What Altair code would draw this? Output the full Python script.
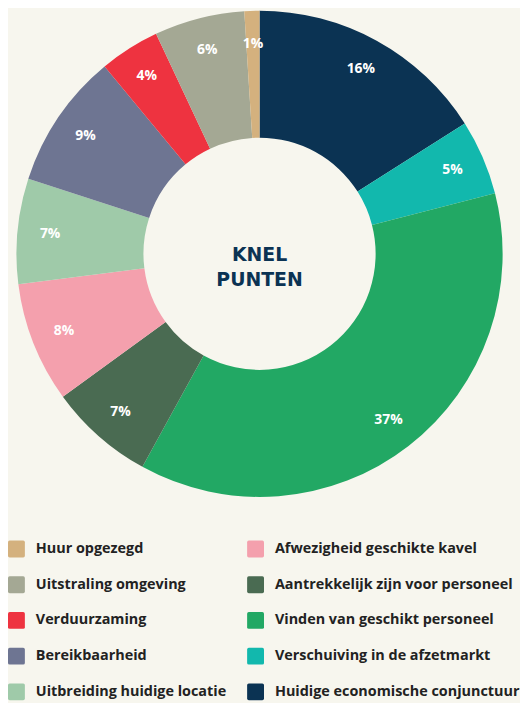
import altair as alt
import pandas as pd

# Slices, clockwise from 12 o'clock
categories = [
    "Huidige economische conjunctuur",
    "Verschuiving in de afzetmarkt",
    "Vinden van geschikt personeel",
    "Aantrekkelijk zijn voor personeel",
    "Afwezigheid geschikte kavel",
    "Uitbreiding huidige locatie",
    "Bereikbaarheid",
    "Verduurzaming",
    "Uitstraling omgeving",
    "Huur opgezegd",
]
percentages = [16, 5, 37, 7, 8, 7, 9, 4, 6, 1]
colors = [
    "#0b3353", "#12b8ad", "#22a864", "#4a6b52", "#f4a0ad",
    "#9fcaa9", "#6e7592", "#ee3340", "#a4a894", "#d4b17e",
]
# legend order (column by column)
legend_order = [
    "Huur opgezegd", "Uitstraling omgeving", "Verduurzaming",
    "Bereikbaarheid", "Uitbreiding huidige locatie",
    "Afwezigheid geschikte kavel", "Aantrekkelijk zijn voor personeel",
    "Vinden van geschikt personeel", "Verschuiving in de afzetmarkt",
    "Huidige economische conjunctuur",
]
center_title = ["KNEL", "PUNTEN"]

color_of = dict(zip(categories, colors))
df = pd.DataFrame({
    "categorie": categories,
    "pct": percentages,
    "volgorde": list(range(len(categories))),
})
df["label"] = df["pct"].astype(str) + "%"

W, H = 507, 490
R_OUT, R_IN, R_LBL = 245, 117, 212

rounded_square = ("M -0.8,-1 L 0.8,-1 Q 1,-1 1,-0.8 L 1,0.8 Q 1,1 0.8,1 "
                  "L -0.8,1 Q -1,1 -1,0.8 L -1,-0.8 Q -1,-1 -0.8,-1 Z")

color_enc = alt.Color(
    "categorie:N",
    scale=alt.Scale(domain=legend_order, range=[color_of[c] for c in legend_order]),
    legend=alt.Legend(
        title=None, orient="none", legendX=0, legendY=534, columns=2,
        symbolType=rounded_square, symbolSize=289, symbolStrokeWidth=0,
        symbolOpacity=1, labelFont="Open Sans", labelFontSize=14.5,
        labelFontWeight="bold", labelColor="#222222", labelOffset=11,
        rowPadding=19, columnPadding=20, labelLimit=400,
    ),
)

base = alt.Chart(df).encode(
    theta=alt.Theta("pct:Q", stack=True),
    order=alt.Order("volgorde:Q", sort="ascending"),
)

arcs = base.mark_arc(outerRadius=R_OUT, innerRadius=R_IN).encode(color=color_enc)

labels = base.mark_text(
    radius=R_LBL, font="Open Sans", fontSize=14, fontWeight="bold", color="white"
).encode(text="label:N")

title = alt.Chart(pd.DataFrame({"t": [center_title]})).mark_text(
    font="DejaVu Sans", fontSize=19, fontWeight="bold", color="#0b3353",
    lineHeight=25, baseline="middle", align="center",
).encode(text="t:N", x=alt.value(W / 2), y=alt.value(H / 2 + 1))

chart = alt.layer(arcs, labels, title).properties(
    width=W, height=H, padding=0, background="#f7f6ee"
).configure_view(stroke=None)

chart.save("out.html", embed_options={"renderer": "svg", "actions": False})
